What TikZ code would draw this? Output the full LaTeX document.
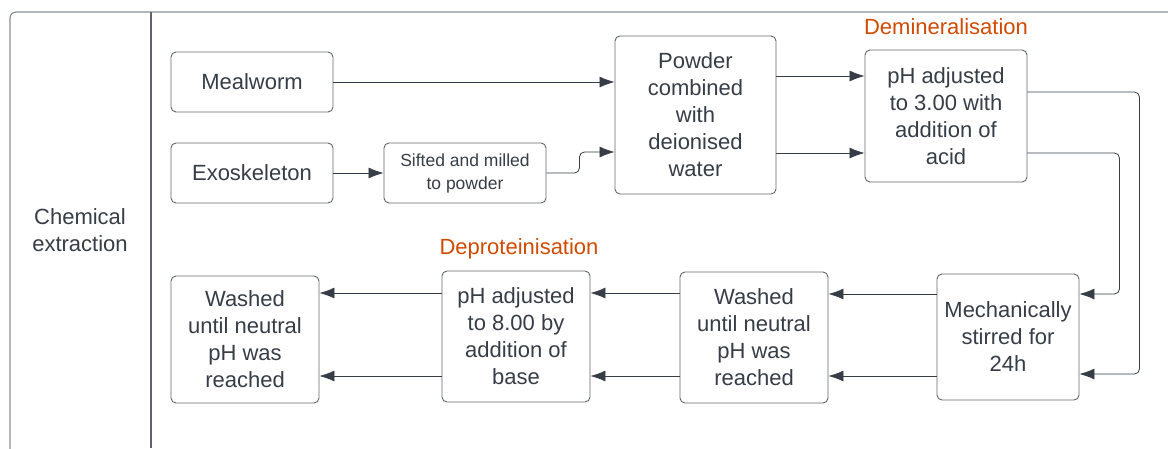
\documentclass[tikz,border=0pt]{standalone}
\usepackage{fontspec}
\setmainfont{Liberation Sans}
\usetikzlibrary{arrows.meta}
\definecolor{ink}{HTML}{363D46}
\definecolor{edge}{HTML}{5F656D}
\definecolor{frame}{HTML}{8A8F96}
\definecolor{phase}{HTML}{D04A02}
\tikzset{
	stepbox/.style={draw=edge, line width=0.9pt, rounded corners=5pt, inner sep=0pt,
		align=center, text=ink, font=\fontsize{22}{27}\selectfont},
	flow/.style={->, draw=ink, line width=0.8pt},
	phase/.style={text=phase, font=\fontsize{22}{25}\selectfont}
}
\begin{document}
\begin{tikzpicture}[x=1pt, y=-1pt, >={Latex[length=15pt,width=11pt]}]
		\useasboundingbox (0, 0) rectangle (1168, 448);
		\clip (0, 0) rectangle (1168, 448);
		\draw[frame, line width=1.2pt, rounded corners=6pt] (10, 12) rectangle (1200, 480);
		\draw[edge, line width=1.2pt] (151, 12) -- (151, 448);
		\node[text=ink, align=center, font=\fontsize{22}{27}\selectfont] (label) at (80, 230) {Chemical\\extraction};
		\node[stepbox, minimum width=162pt, minimum height=60pt] (meal) at (252, 82) {Mealworm};
		\node[stepbox, minimum width=162pt, minimum height=60pt] (exo) at (252, 173) {Exoskeleton};
		\node[stepbox, minimum width=162pt, minimum height=60pt, font=\fontsize{17.5}{23}\selectfont] (sift) at (465, 173) {Sifted and milled\\to powder};
		\node[stepbox, minimum width=161pt, minimum height=158pt] (powder) at (695.5, 115) {Powder\\combined\\with\\deionised\\water};
		\node[stepbox, minimum width=162pt, minimum height=132pt] (acid) at (946, 116) {pH adjusted\\to 3.00 with\\addition of\\acid};
		\node[stepbox, minimum width=142pt, minimum height=126pt] (stir) at (1008, 337) {Mechanically\\stirred for\\24h};
		\node[stepbox, minimum width=148pt, minimum height=131pt] (washA) at (754, 337.5) {Washed\\until neutral\\pH was\\reached};
		\node[stepbox, minimum width=148pt, minimum height=131pt] (base) at (516, 336.5) {pH adjusted\\to 8.00 by\\addition of\\base};
		\node[stepbox, minimum width=148pt, minimum height=127pt] (washB) at (245, 339.5) {Washed\\until neutral\\pH was\\reached};
		\node[phase] (demin) at (946, 27) {Demineralisation};
		\node[phase] (deprot) at (519, 249) {Deproteinisation};
		\draw[flow] (meal.east) -- (powder.west |- meal.east);
		\draw[flow] (exo.east) -- (sift.west |- exo.east);
		\draw[flow, rounded corners=5pt] (sift.east) -- ++(33, 0) |- (powder.west |- 0, 152);
		\draw[flow] (powder.east |- 0, 76) -- (acid.west |- 0, 76);
		\draw[flow] (powder.east |- 0, 153) -- (acid.west |- 0, 153);
		\draw[flow, rounded corners=5pt] (acid.east |- 0, 92) -- ++(112, 0) |- (stir.east |- 0, 374);
		\draw[flow, rounded corners=5pt] (acid.east |- 0, 153) -- ++(92, 0) |- (stir.east |- 0, 294);
		\draw[flow] (stir.west |- 0, 294) -- (washA.east |- 0, 294);
		\draw[flow] (stir.west |- 0, 376) -- (washA.east |- 0, 376);
		\draw[flow] (washA.west |- 0, 293) -- (base.east |- 0, 293);
		\draw[flow] (washA.west |- 0, 376) -- (base.east |- 0, 376);
		\draw[flow] (base.west |- 0, 293) -- (washB.east |- 0, 293);
		\draw[flow] (base.west |- 0, 376) -- (washB.east |- 0, 376);
		\end{tikzpicture}
\end{document}
